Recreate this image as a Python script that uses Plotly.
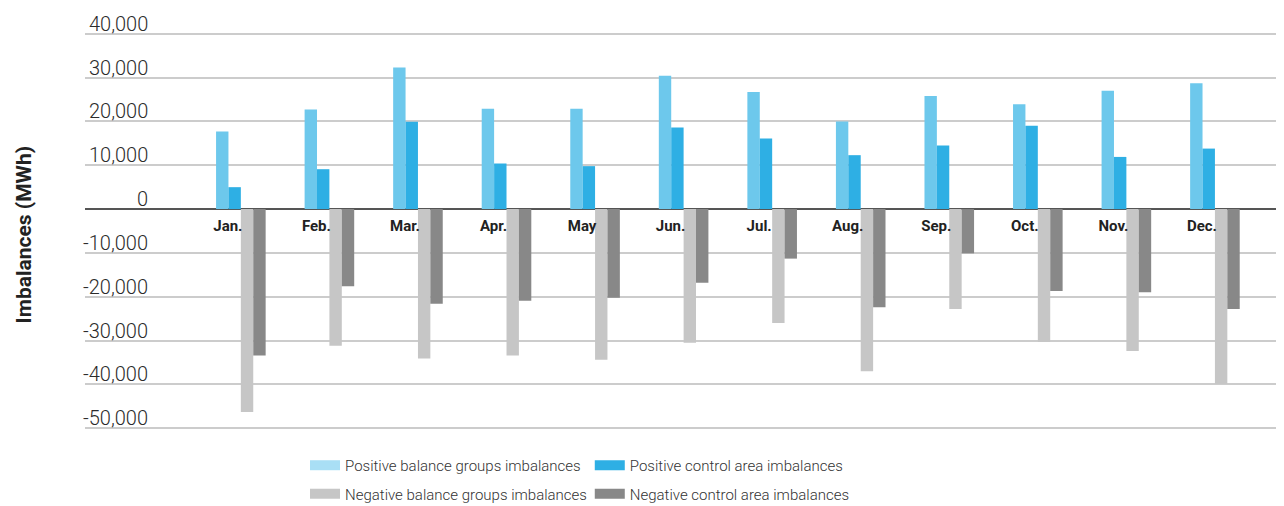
import plotly.graph_objects as go

# monthly imbalances (MWh)
months = ["Jan.", "Feb.", "Mar.", "Apr.", "May", "Jun.",
          "Jul.", "Aug.", "Sep.", "Oct.", "Nov.", "Dec."]
pos_balance_groups = [17700, 22700, 32300, 22900, 22900, 30400,
                      26700, 20000, 25800, 23900, 27000, 28700]
pos_control_area = [5000, 9100, 19900, 10400, 9800, 18600,
                    16100, 12300, 14500, 19000, 11900, 13800]
neg_balance_groups = [-46300, -31200, -34100, -33400, -34400, -30500,
                      -26000, -37000, -22800, -30300, -32400, -39900]
neg_control_area = [-33400, -17600, -21600, -20900, -20200, -16800,
                    -11300, -22400, -10100, -18700, -19000, -22800]

y_ticks = [40000, 30000, 20000, 10000, 0, -10000, -20000, -30000, -40000, -50000]
y_tick_labels = ["40,000", "30,000", "20,000", "10,000", "0", "-10,000",
                 "-20,000", "-30,000", "-40,000", "-50,000"]

series = [
    ("Positive balance groups imbalances", pos_balance_groups, "#6DC8EC", "#A9DFF5", "legend"),
    ("Positive control area imbalances", pos_control_area, "#2EAFE4", "#2EAFE4", "legend2"),
    ("Negative balance groups imbalances", neg_balance_groups, "#C6C6C6", "#C6C6C6", "legend"),
    ("Negative control area imbalances", neg_control_area, "#888888", "#888888", "legend2"),
]

fig = go.Figure()
for name, vals, color, swatch, leg in series:
    fig.add_trace(go.Bar(x=months, y=vals, name=name, marker_color=color,
                         marker_line_width=0, showlegend=False))
# legend entries (wide swatches)
for name, vals, color, swatch, leg in series:
    fig.add_trace(go.Scatter(x=[None], y=[None], mode="lines", name=name,
                             line=dict(color=swatch, width=13),
                             legend=leg, legendgroup=name))

# page body has an 8px margin, so the figure is 8px smaller than the window
W, H = 1276, 498
L, T, B = 77, 24, 76
plot_w = W - L
# pad the range a little so the end gridlines are still drawn
y_lo, y_hi = -50400, 40400
legend_font = dict(family="Roboto", size=15, weight=300, color="#333333")
fig.update_layout(
    width=W, height=H,
    margin=dict(l=L, r=0, t=T, b=B, autoexpand=False),
    plot_bgcolor="white", paper_bgcolor="white",
    barmode="group", bargap=0.44, bargroupgap=0,
    font=dict(family="Roboto", color="#333333"),
    xaxis=dict(type="category", range=[-1.76, 11.78], anchor="free",
               position=(0 - y_lo) / (y_hi - y_lo),
               showgrid=False, showline=False, ticks="",
               ticklabelshift=-13, ticklabelstandoff=6,
               tickfont=dict(family="Roboto", size=15, weight="bold", color="#222222")),
    yaxis=dict(range=[y_lo, y_hi], tickvals=y_ticks, showticklabels=False,
               showgrid=True, gridcolor="#CCCCCC", gridwidth=1.5,
               zeroline=True, zerolinecolor="#555555", zerolinewidth=2),
    legend=dict(x=0.1835, y=-0.0477, xanchor="left", yanchor="top",
                tracegroupgap=6, bgcolor="rgba(0,0,0,0)", font=legend_font),
    legend2=dict(x=0.421, y=-0.0477, xanchor="left", yanchor="top",
                 tracegroupgap=6, bgcolor="rgba(0,0,0,0)", font=legend_font),
)

for v, lab in zip(y_ticks, y_tick_labels):
    fig.add_annotation(x=(142 - L) / plot_w, xref="paper", y=v, yref="y",
                       xanchor="right", yanchor="middle", yshift=10,
                       text=lab, showarrow=False,
                       font=dict(family="Roboto", size=20, weight=300, color="#2B2B2B"))

fig.add_annotation(x=(16 - L) / plot_w, xref="paper", y=-6000, yref="y",
                   text="Imbalances (MWh)", textangle=-90, showarrow=False,
                   xanchor="center", yanchor="middle",
                   font=dict(family="Roboto", size=21, weight="bold", color="#222222"))

fig.write_html("out.html")
